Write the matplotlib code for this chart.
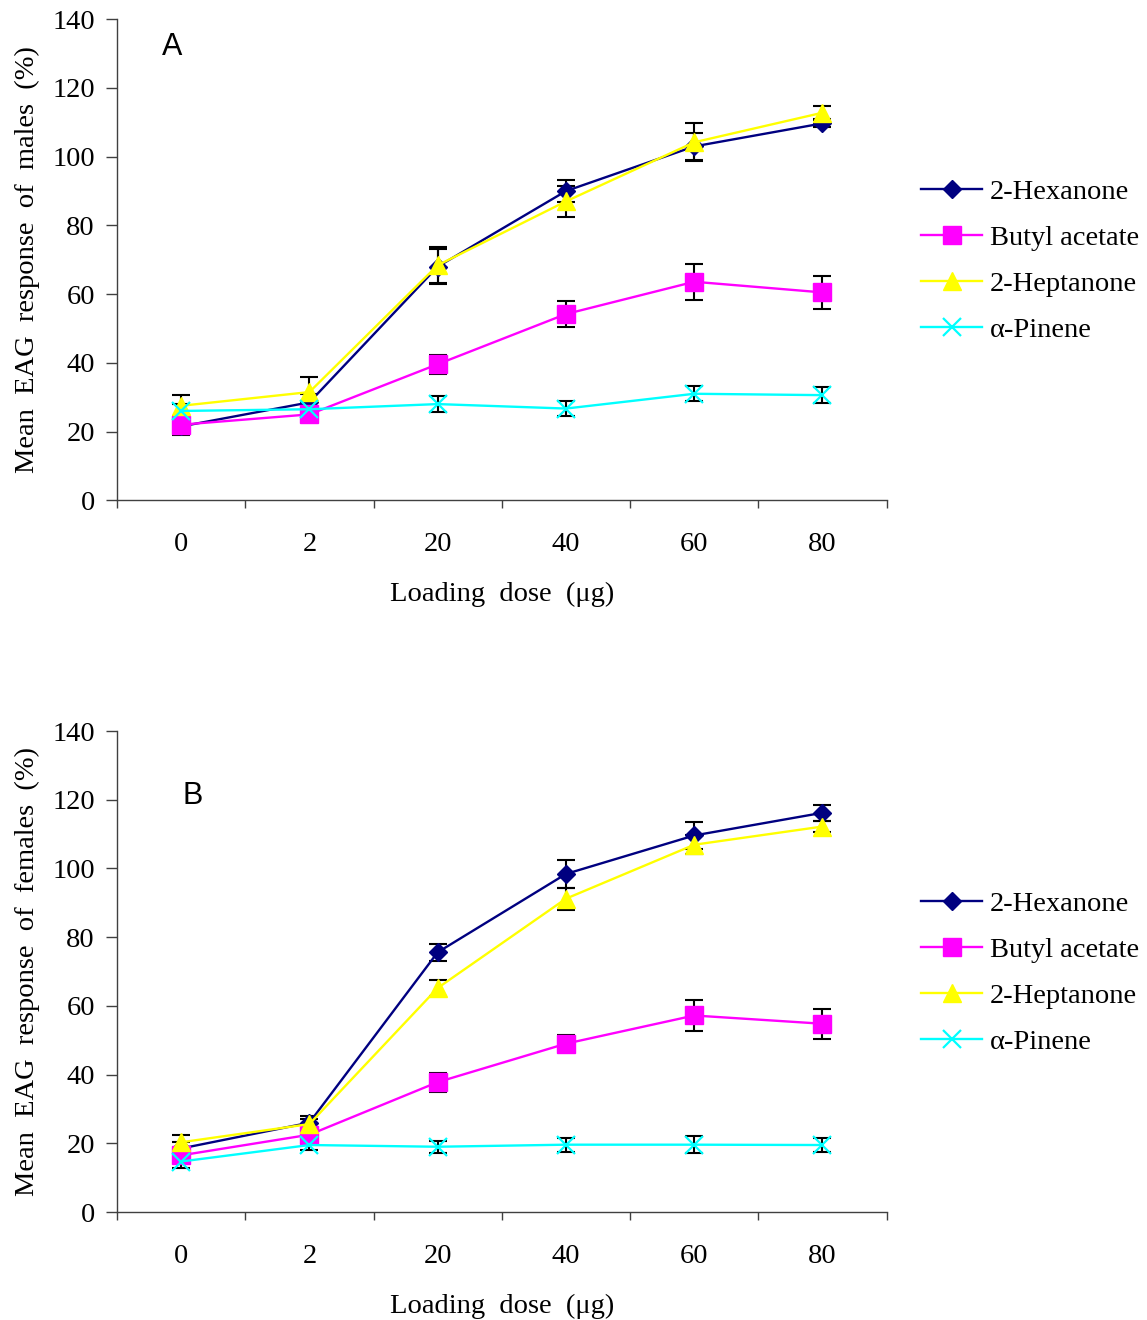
import matplotlib
matplotlib.use("Agg")
import matplotlib.pyplot as plt
import numpy as np

# ----- data -----
doses = ["0", "2", "20", "40", "60", "80"]
legend_names = ["2-Hexanone", "Butyl acetate", "2-Heptanone", "α-Pinene"]

# males (panel A)
hex_m = [21.5, 28.5, 68.0, 90.0, 103.0, 109.7]
hex_m_err = [2.5, 2.5, 5.0, 3.2, 4.0, 1.2]
but_m = [22.0, 25.0, 39.6, 54.2, 63.6, 60.5]
but_m_err = [2.0, 2.0, 2.7, 3.8, 5.3, 4.7]
hep_m = [27.5, 31.5, 68.4, 87.0, 104.2, 112.8]
hep_m_err = [3.0, 4.3, 5.2, 4.5, 5.5, 2.0]
pin_m = [26.0, 26.5, 28.0, 26.7, 31.0, 30.6]
pin_m_err = [2.0, 2.0, 2.3, 2.2, 2.2, 2.4]

# females (panel B)
hex_f = [18.5, 26.0, 75.6, 98.4, 109.6, 116.2]
hex_f_err = [2.0, 2.0, 2.4, 4.0, 4.0, 2.4]
but_f = [16.5, 22.5, 37.8, 49.0, 57.2, 54.8]
but_f_err = [1.5, 1.5, 2.8, 2.5, 4.4, 4.3]
hep_f = [20.3, 25.6, 65.2, 91.2, 106.9, 112.2]
hep_f_err = [2.0, 1.5, 2.2, 3.2, 2.7, 1.5]
pin_f = [14.7, 19.5, 19.0, 19.6, 19.6, 19.5]
pin_f_err = [2.0, 1.5, 1.8, 2.0, 2.5, 2.0]

colors = ["#000080", "#FF00FF", "#FFFF00", "#00FFFF"]
markers = ["D", "s", "^", "x"]
msizes = [9.5, 12.5, 13.5, 13.5]

panels = [
    ("A", "Mean  EAG  response  of  males  (%)",
     [hex_m, but_m, hep_m, pin_m], [hex_m_err, but_m_err, hep_m_err, pin_m_err],
     (0.0714, 0.942)),
    ("B", "Mean  EAG  response  of  females  (%)",
     [hex_f, but_f, hep_f, pin_f], [hex_f_err, but_f_err, hep_f_err, pin_f_err],
     (0.0987, 0.865)),
]

serif = "Liberation Serif"
fs = 20.5
fig = plt.figure(figsize=(11.47, 13.2), dpi=100)
axes_pos = [[0.102, 0.621, 0.671, 0.3644], [0.102, 0.0818, 0.671, 0.3644]]

x = np.arange(len(doses))
for pos, (letter, ylabel, series, errs, lpos) in zip(axes_pos, panels):
    ax = fig.add_axes(pos)
    for vals, err, c, m, ms, lbl in zip(series, errs, colors, markers, msizes, legend_names):
        ax.errorbar(x, vals, yerr=err, fmt="none", ecolor="black",
                    elinewidth=1.5, capsize=6.8, capthick=1.5, zorder=2)
        ax.plot(x, vals, color=c, lw=1.7, marker=m, markersize=ms,
                markerfacecolor=c, markeredgecolor=c,
                markeredgewidth=1.6 if m == "x" else 1.0,
                label=lbl, zorder=3)

    ax.set_xlim(-0.5, len(doses) - 0.5)
    ax.set_ylim(0, 140)
    ax.set_yticks(np.arange(0, 141, 20))
    ax.set_xticks(np.arange(-0.5, len(doses), 1.0))
    ax.set_xticklabels([])
    ax.set_xticks(x, minor=True)
    ax.set_xticklabels(doses, minor=True)
    ax.tick_params(axis="x", which="major", direction="out", length=6, width=1, color="#404040")
    ax.tick_params(axis="x", which="minor", length=0, pad=23)
    ax.tick_params(axis="y", direction="out", length=8, width=1, color="#404040", pad=8)
    for lab in ax.get_xticklabels(minor=True) + ax.get_yticklabels():
        lab.set_fontfamily(serif)
        lab.set_fontsize(fs)

    ax.spines["top"].set_visible(False)
    ax.spines["right"].set_visible(False)
    for s in ["left", "bottom"]:
        ax.spines[s].set_color("#404040")
        ax.spines[s].set_linewidth(1.0)

    ax.set_xlabel("Loading  dose  (μg)", fontfamily=serif, fontsize=fs, labelpad=18)
    ax.set_ylabel(ylabel, fontfamily=serif, fontsize=fs, labelpad=9)

    ax.text(lpos[0], lpos[1], letter, transform=ax.transAxes, fontfamily="Liberation Sans",
            fontsize=22, ha="center", va="center")

    ax.legend(loc="center left", bbox_to_anchor=(1.045, 0.497), frameon=False,
              prop={"family": serif, "size": fs}, handlelength=2.15,
              handletextpad=0.25, labelspacing=0.7, borderpad=0, borderaxespad=0)

fig.savefig("out.png", dpi=100)
